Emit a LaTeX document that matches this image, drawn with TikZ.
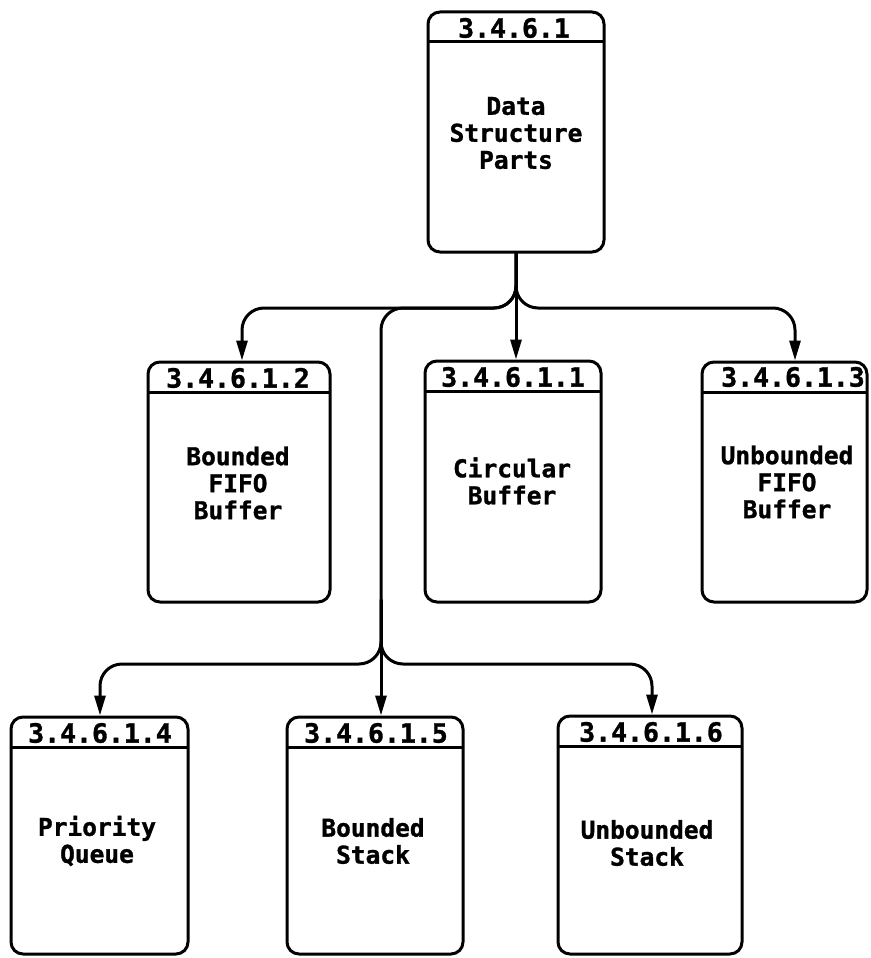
\documentclass[tikz,border=0pt]{standalone}
\usepackage{fontspec}
\newfontfamily\plotfont[FakeBold=1.2]{DejaVu Sans Mono Bold}
\usetikzlibrary{arrows.meta}
\begin{document}
\begin{tikzpicture}[x=1pt,y=-1pt,
  box/.style={draw, line width=3pt, rounded corners=12pt, inner sep=0pt,
    path picture={\draw[line width=3pt]
      ([yshift=-30pt]path picture bounding box.north west) --
      ([yshift=-30pt]path picture bounding box.north east);}},
  hdr/.style={inner sep=0pt, font=\plotfont\fontsize{26.5}{27}\selectfont},
  body/.style={inner sep=0pt, align=center, font=\plotfont\fontsize{24.5}{27}\selectfont},
  conn/.style={line width=3pt, rounded corners=22pt, line cap=round},
  arr/.style={-{Triangle[length=20pt,width=11pt]}}
]
\fill[white] (0,0) rectangle (870,958);
\path[use as bounding box] (0,0) rectangle (870,958);

% boxes
\node[box, minimum width=176pt, minimum height=240pt] (A)  at (516,132) {};
\node[box, minimum width=182pt, minimum height=240pt] (B2) at (239,482) {};
\node[box, minimum width=176pt, minimum height=241pt] (B1) at (513,481.5) {};
\node[box, minimum width=165pt, minimum height=240pt] (B3) at (784.5,482) {};
\node[box, minimum width=177pt, minimum height=237pt] (B4) at (99.5,835.5) {};
\node[box, minimum width=176pt, minimum height=237pt] (B5) at (375,835.5) {};
\node[box, minimum width=184pt, minimum height=238pt] (B6) at (650,835) {};

% headers
\node[hdr] (hA)  at (514,28)  {3.4.6.1};
\node[hdr] (hB2) at (238,378) {3.4.6.1.2};
\node[hdr] (hB1) at (513,377) {3.4.6.1.1};
\node[hdr] (hB3) at (793,377) {3.4.6.1.3};
\node[hdr] (hB4) at (100,733) {3.4.6.1.4};
\node[hdr] (hB5) at (376,733) {3.4.6.1.5};
\node[hdr] (hB6) at (651,732) {3.4.6.1.6};

% body texts
\node[body] (tA)  at (516,133) {Data\\Structure\\Parts};
\node[body] (tB2) at (238,483) {Bounded\\FIFO\\Buffer};
\node[body] (tB1) at (512,481) {Circular\\Buffer};
\node[body] (tB3) at (787,482) {Unbounded\\FIFO\\Buffer};
\node[body] (tB4) at (97,841)  {Priority\\Queue};
\node[body] (tB5) at (373,841) {Bounded\\Stack};
\node[body] (tB6) at (647,843) {Unbounded\\Stack};

% connector bend points
\coordinate (j1) at (516,308);
\coordinate (l2) at (242,308);
\coordinate (r2) at (795,308);
\coordinate (t1) at (381,308);
\coordinate (t2) at (381,600);
\coordinate (j2) at (381,664);
\coordinate (l3) at (100,664);
\coordinate (r3) at (652,664);

\draw[conn,arr] (A.south) -- (j1) -- (l2) -- (l2 |- B2.north);
\draw[conn,arr] (A.south) -- (j1) -- (r2) -- (r2 |- B3.north);
\draw[conn,arr] (A.south) -- (A.south |- B1.north);
\draw[conn,arr] (A.south) -- (j1) -- (t1) -- (j2) -- (l3) -- (l3 |- B4.north);
\draw[conn,arr] (t2) -- (j2) -- (r3) -- (r3 |- B6.north);
\draw[conn,arr] (t2) -- (t2 |- B5.north);
\end{tikzpicture}
\end{document}
